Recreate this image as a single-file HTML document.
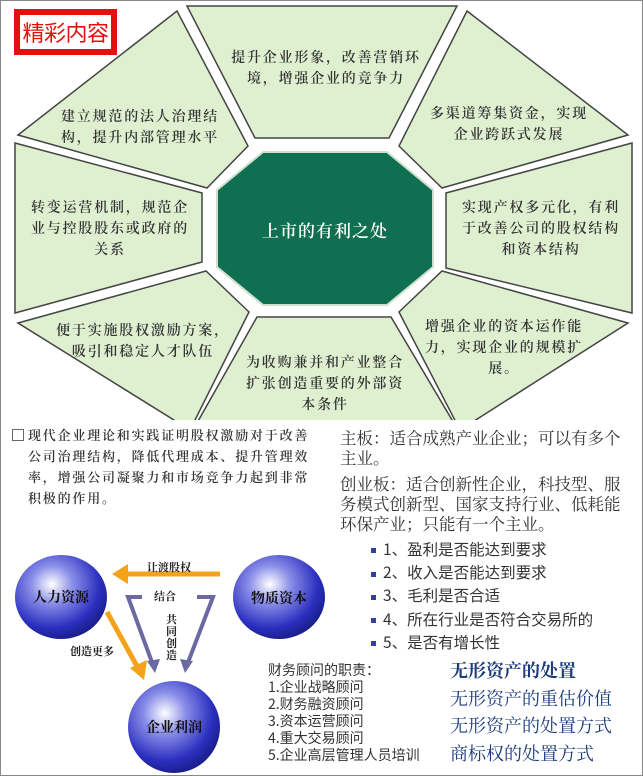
<!DOCTYPE html>
<html><head><meta charset="utf-8"><style>
body{margin:0;width:643px;height:776px;overflow:hidden;background:#fff;font-family:"Liberation Sans","Noto Serif CJK SC","Noto Sans CJK SC",serif;}
.t{position:absolute;text-align:center;font-size:14px;line-height:21px;color:#333;letter-spacing:1.8px;white-space:nowrap;font-family:"Noto Serif CJK SC","Noto Sans CJK SC",serif;font-weight:600;transform:translateX(-50%);}
.a{position:absolute;white-space:nowrap;}
</style></head><body>
<div style="position:absolute;left:0;top:0;width:641px;height:774px;border:1px solid #888;"></div>
<svg width="643" height="776" style="position:absolute;left:0;top:0">
<defs>
<radialGradient id="g" cx="40%" cy="35%" r="65%"><stop offset="0" stop-color="#fff"/><stop offset="0.35" stop-color="#8a8ee8"/><stop offset="0.8" stop-color="#2a2fbf"/><stop offset="1" stop-color="#1c2090"/></radialGradient>
<clipPath id="c"><rect x="0" y="0" width="643" height="420"/></clipPath>
</defs>
<g clip-path="url(#c)" fill="#dff0d0" stroke="#444" stroke-width="1.5">
<polygon points="187,6 457,6 389,138 255,138"/>
<polygon points="18,135 177,11 248,146 207,188"/>
<polygon points="467,11 628,135 442,188 399,146"/>
<polygon points="15,143 202,193 202,262 15,313"/>
<polygon points="632,143 446,193 446,268 632,313"/>
<polygon points="18,323 206,271 249,312 190,430"/>
<polygon points="257,317 391,317 458,430 193,430"/>
<polygon points="628,323 442,271 399,312 460,430"/>
</g>
<polygon points="263,152 387,152 433,190 433,267 387,305 263,305 217,267 217,190" fill="#0e7050" stroke="#cfe0d0" stroke-width="2"/>
<g fill="#f5a21b" stroke="#f5a21b">
<line x1="220" y1="574" x2="124" y2="574" stroke-width="5"/>
<polygon points="112,574 128,564 128,584" stroke="none"/>
<line x1="107" y1="612" x2="138" y2="668" stroke-width="5"/>
<polygon points="144,680 130,668 147,660" stroke="none"/>
</g>
<g fill="none" stroke="#6a6aa0" stroke-width="4">
<polyline points="142,597 128,597 153,665"/>
<polyline points="197,597 213,597 187,665"/>
</g>
<polygon points="155,673 147,661 160,659" fill="#6a6aa0"/>
<polygon points="185,673 180,659 193,661" fill="#6a6aa0"/>
<ellipse cx="61" cy="597" rx="46" ry="42" fill="url(#g)"/>
<ellipse cx="279" cy="597" rx="46" ry="42" fill="url(#g)"/>
<ellipse cx="174" cy="727" rx="46" ry="46" fill="url(#g)"/>
</svg>
<div class="a" style="left:14px;top:9px;width:91px;height:34px;border:6px solid #e41010;background:#fff;overflow:hidden;">
<div style="position:absolute;left:0;top:0;width:91px;text-align:center;color:#e41010;font-size:22px;line-height:34px;letter-spacing:-0.5px;font-family:'Noto Sans CJK SC',sans-serif;">精彩内容</div></div>
<div class="t" style="left:326px;top:47px;">提升企业形象，改善营销环<br>境，增强企业的竞争力</div>
<div class="t" style="left:140px;top:106px;">建立规范的法人治理结<br>构，提升内部管理水平</div>
<div class="t" style="left:509px;top:103px;">多渠道筹集资金，实现<br>企业跨跃式发展</div>
<div class="t" style="left:110px;top:197px;">转变运营机制，规范企<br>业与控股股东或政府的<br>关系</div>
<div class="t" style="left:541px;top:197px;">实现产权多元化，有利<br>于改善公司的股权结构<br>和资本结构</div>
<div class="t" style="left:143px;top:320px;">便于实施股权激励方案，<br>吸引和稳定人才队伍</div>
<div class="t" style="left:325px;top:352px;">为收购兼并和产业整合<br>扩张创造重要的外部资<br>本条件</div>
<div class="t" style="left:504px;top:316px;">增强企业的资本运作能<br>力，实现企业的规模扩<br>展。</div>
<div class="a" style="left:217px;top:217px;width:216px;text-align:center;color:#fff;font-size:17px;letter-spacing:1px;font-weight:600;font-family:'Noto Serif CJK SC',serif;">上市的有利之处</div>
<div class="a" style="left:12px;top:429px;width:10px;height:10px;border:1px solid #667;"></div>
<div class="a" style="left:28px;top:424px;font-size:13px;line-height:21px;letter-spacing:1.8px;color:#333;font-weight:600;font-family:'Noto Serif CJK SC',serif;">现代企业理论和实践证明股权激励对于改善<br>公司治理结构，降低代理成本、提升管理效<br>率，增强公司凝聚力和市场竞争力起到非常<br>积极的作用。</div>
<div class="a" style="left:340px;top:427px;width:292px;white-space:normal;font-size:16.5px;line-height:20px;color:#333;font-family:'Noto Serif CJK SC',serif;">主板：适合成熟产业企业；可以有多个主业。<div style="height:6px"></div>创业板：适合创新性企业，科技型、服务模式创新型、国家支持行业、低耗能环保产业；只能有一个主业。</div>
<div class="a" style="left:371px;top:538px;font-size:15.5px;line-height:23.2px;color:#333;font-family:'Noto Sans CJK SC',sans-serif;">
<div><span style="display:inline-block;width:5px;height:5px;background:#3340a0;margin-right:7px;vertical-align:middle"></span>1、盈利是否能达到要求</div>
<div><span style="display:inline-block;width:5px;height:5px;background:#3340a0;margin-right:7px;vertical-align:middle"></span>2、收入是否能达到要求</div>
<div><span style="display:inline-block;width:5px;height:5px;background:#3340a0;margin-right:7px;vertical-align:middle"></span>3、毛利是否合适</div>
<div><span style="display:inline-block;width:5px;height:5px;background:#3340a0;margin-right:7px;vertical-align:middle"></span>4、所在行业是否符合交易所的</div>
<div><span style="display:inline-block;width:5px;height:5px;background:#3340a0;margin-right:7px;vertical-align:middle"></span>5、是否有增长性</div></div>
<div class="a" style="left:268px;top:662px;font-size:14px;line-height:17px;color:#333;font-family:'Noto Sans CJK SC',sans-serif;">财务顾问的职责：<br>1.企业战略顾问<br>2.财务融资顾问<br>3.资本运营顾问<br>4.重大交易顾问<br>5.企业高层管理人员培训</div>
<div class="a" style="left:450px;top:657px;font-size:18px;line-height:27.5px;color:#1a3a7a;font-family:'Noto Serif CJK SC',serif;"><b>无形资产的处置</b><br>无形资产的重估价值<br>无形资产的处置方式<br>商标权的处置方式</div>
<div class="a" style="left:28px;top:587px;width:66px;text-align:center;font-size:14px;font-weight:bold;color:#111;">人力资源</div>
<div class="a" style="left:246px;top:588px;width:66px;text-align:center;font-size:14px;font-weight:bold;color:#111;">物质资本</div>
<div class="a" style="left:141px;top:717px;width:66px;text-align:center;font-size:14px;font-weight:bold;color:#111;">企业利润</div>
<div class="a" style="left:147px;top:559px;font-size:11px;font-weight:bold;color:#222;">让渡股权</div>
<div class="a" style="left:154px;top:588px;font-size:11px;font-weight:bold;color:#222;">结合</div>
<div class="a" style="left:166px;top:614px;width:12px;font-size:11px;line-height:12px;font-weight:bold;color:#222;white-space:normal;">共同创造</div>
<div class="a" style="left:70px;top:643px;font-size:11px;font-weight:bold;color:#222;">创造更多</div>
</body></html>
